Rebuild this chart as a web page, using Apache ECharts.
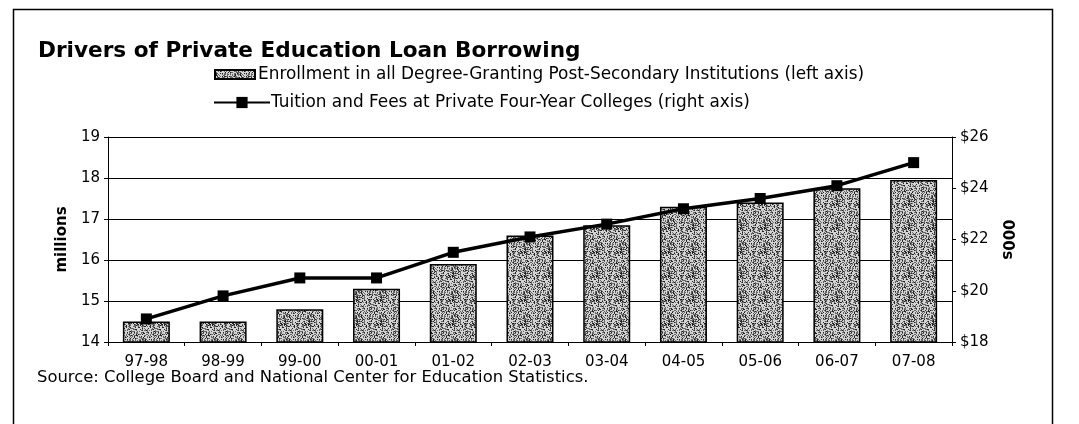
<!DOCTYPE html>
<html>
<head>
<meta charset="utf-8">
<script src="https://cdn.jsdelivr.net/npm/echarts@6/dist/echarts.min.js"></script>
<style>
  html, body { margin: 0; padding: 0; background: #fff; }
  #chart { width: 1079px; height: 424px; }
</style>
</head>
<body>
<div id="chart"></div>
<script>
  // school years
  var years = ['97-98', '98-99', '99-00', '00-01', '01-02', '02-03', '03-04', '04-05', '05-06', '06-07', '07-08'];
  // enrollment, millions (left axis)
  var enrollment = [14.5, 14.5, 14.8, 15.3, 15.9, 16.6, 16.85, 17.3, 17.4, 17.75, 17.95];
  // tuition & fees, $000s (right axis)
  var tuition = [18.9, 19.8, 20.5, 20.5, 21.5, 22.1, 22.6, 23.2, 23.6, 24.1, 25.0];

  var barName = 'Enrollment in all Degree-Granting Post-Secondary Institutions (left axis)';
  var lineName = 'Tuition and Fees at Private Four-Year Colleges (right axis)';
  var font = 'DejaVu Sans';

  // stippled fill like the scanned original (fixed hash, not data)
  function stipple() {
    var c = document.createElement('canvas');
    c.width = 24; c.height = 24;
    var ctx = c.getContext('2d');
    ctx.fillStyle = '#d4d4d4';
    ctx.fillRect(0, 0, 24, 24);
    for (var y = 0; y < 24; y++) {
      for (var x = 0; x < 24; x++) {
        var h = (x * 73856093 ^ y * 19349663) % 7;
        if (h < 0) h += 7;
        if (h < 3) { ctx.fillStyle = h === 0 ? '#222' : '#666'; ctx.fillRect(x, y, 1, 1); }
      }
    }
    return c;
  }
  var pattern = { image: stipple(), repeat: 'repeat' };

  var chart = echarts.init(document.getElementById('chart'));
  chart.setOption({
    animation: false,
    textStyle: { fontFamily: font, color: '#000' },
    title: {
      text: 'Drivers of Private Education Loan Borrowing',
      left: 33, top: 35,
      textStyle: { fontFamily: font, fontSize: 21.6, fontWeight: 'bold', color: '#000' }
    },
    legend: [{
      data: [{ name: barName, icon: 'rect' }],
      left: 209, top: 61,
      itemWidth: 40, itemHeight: 9, itemGap: 4,
      textStyle: { fontFamily: font, fontSize: 16.9, color: '#000', padding: [0, 0, 0, -2] }
    }, {
      data: [lineName],
      left: 208, top: 89,
      itemWidth: 56, itemHeight: 14,
      textStyle: { fontFamily: font, fontSize: 16.9, color: '#000', padding: [0, 0, 0, -4] }
    }],
    grid: { left: 108, right: 127, top: 137, bottom: 82 },
    xAxis: {
      type: 'category',
      data: years,
      axisLine: { lineStyle: { color: '#000', width: 1 } },
      axisTick: { show: true, length: 4, lineStyle: { color: '#000' } },
      axisLabel: { fontSize: 15, color: '#000', margin: 13, fontFamily: font }
    },
    yAxis: [{
      type: 'value',
      min: 14, max: 19, interval: 1,
      name: 'millions',
      nameLocation: 'middle',
      nameRotate: 90,
      nameGap: 36,
      nameTextStyle: { fontSize: 15, fontWeight: 'bold', fontFamily: font, color: '#000' },
      axisLine: { show: true, lineStyle: { color: '#000' } },
      axisTick: { show: true, length: 4, lineStyle: { color: '#000' } },
      axisLabel: { fontSize: 15, color: '#000', margin: 8, fontFamily: font },
      splitLine: { show: true, lineStyle: { color: '#000', width: 1 } }
    }, {
      type: 'value',
      min: 18, max: 26, interval: 2,
      position: 'right',
      name: '000s',
      nameLocation: 'middle',
      nameRotate: -90,
      nameGap: 44,
      nameTextStyle: { fontSize: 15, fontWeight: 'bold', fontFamily: font, color: '#000' },
      axisLine: { show: true, lineStyle: { color: '#000' } },
      axisTick: { show: true, length: 4, lineStyle: { color: '#000' } },
      axisLabel: { fontSize: 15, color: '#000', margin: 8, fontFamily: font,
        formatter: function (v) { return '$' + v; } },
      splitLine: { show: false }
    }],
    series: [{
      name: barName,
      type: 'bar',
      data: enrollment,
      yAxisIndex: 0,
      barWidth: 47,
      itemStyle: {
        color: pattern,
        borderColor: '#000',
        borderWidth: 1.5
      }
    }, {
      name: lineName,
      type: 'line',
      data: tuition,
      yAxisIndex: 1,
      symbol: 'rect',
      symbolSize: 11,
      lineStyle: { color: '#000', width: 3.5 },
      itemStyle: { color: '#000' },
      z: 5
    }],
    graphic: [{
      type: 'rect',
      shape: { x: 13.5, y: 9.5, width: 1039, height: 430 },
      style: { fill: 'none', stroke: '#000', lineWidth: 1.5 },
      silent: true
    }, {
      type: 'text',
      left: 37, top: 370,
      style: { text: 'Source: College Board and National Center for Education Statistics.',
        font: '16.4px "DejaVu Sans"', fill: '#000' }
    }]
  });
</script>
</body>
</html>
